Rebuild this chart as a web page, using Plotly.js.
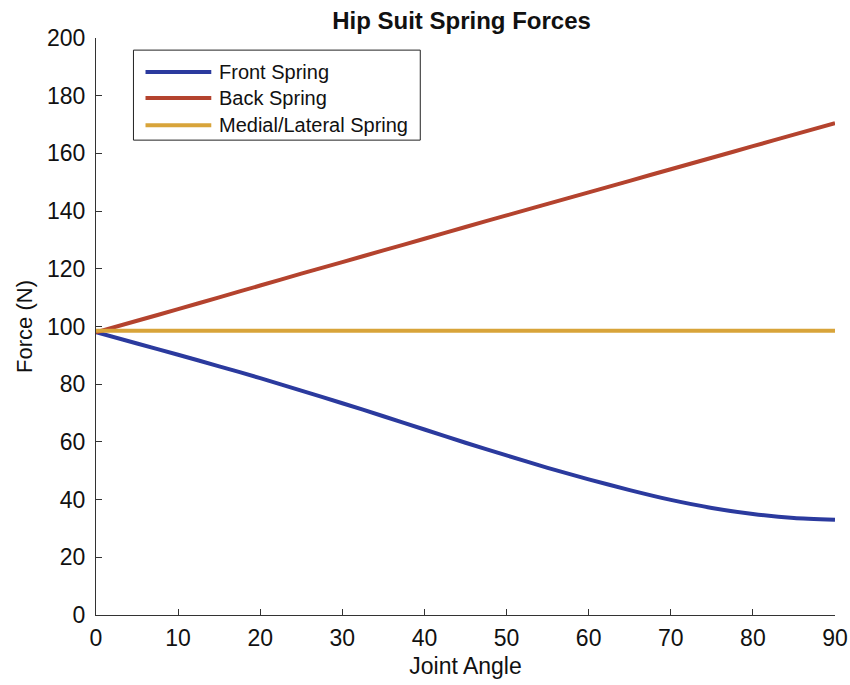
<!DOCTYPE html>
<html>
<head>
<meta charset="utf-8">
<script src="https://cdn.plot.ly/plotly-3.0.1.min.js"></script>
<style>
  html, body { margin: 0; padding: 0; background: #fff; }
  #chart { width: 850px; height: 685px; }
</style>
</head>
<body>
<div id="chart"></div>
<script>
// Joint angle samples (degrees)
const jointAngle = [0, 5, 10, 15, 20, 25, 30, 35, 40, 45, 50, 55, 60, 65, 70, 75, 80, 85, 90];

// Spring forces (N) at each joint angle
const frontSpring   = [98, 94.1, 90.2, 86.2, 82.1, 77.8, 73.4, 68.9, 64.3, 59.7,
                       55.3, 51.0, 47.0, 43.3, 39.9, 37.1, 35.0, 33.6, 33.0];
const backSpring    = [98, 102, 106, 110.1, 114.2, 118.3, 122.3, 126.4, 130.4, 134.5,
                       138.5, 142.5, 146.5, 150.5, 154.5, 158.5, 162.5, 166.5, 170.5];
const medialLateral = [98.5, 98.5, 98.5, 98.5, 98.5, 98.5, 98.5, 98.5, 98.5, 98.5,
                       98.5, 98.5, 98.5, 98.5, 98.5, 98.5, 98.5, 98.5, 98.5];

const seriesNames  = ['Front Spring', 'Back Spring', 'Medial/Lateral Spring'];
const seriesColors = ['#2b3a9e', '#b4432e', '#d8a43a'];
const seriesValues = [frontSpring, backSpring, medialLateral];

const FONT = 'Liberation Sans, Arial, Helvetica, sans-serif';

const traces = seriesValues.map((vals, i) => ({
  x: jointAngle,
  y: vals,
  type: 'scatter',
  mode: 'lines',
  name: seriesNames[i],
  line: { color: seriesColors[i], width: 4, shape: 'spline', smoothing: 0.6 },
  showlegend: false
}));

// Boxed legend in the upper-left corner of the axes
const legendBox = { x0: 0.0507, x1: 0.4388, y0: 0.823, y1: 0.979 };
const rowY = [0.941, 0.896, 0.849];
const shapes = [{
  type: 'rect', xref: 'paper', yref: 'paper',
  x0: legendBox.x0, x1: legendBox.x1, y0: legendBox.y0, y1: legendBox.y1,
  line: { color: '#222', width: 1 }, fillcolor: '#fff'
}];
const annotations = [];
seriesNames.forEach((name, i) => {
  shapes.push({
    type: 'line', xref: 'paper', yref: 'paper',
    x0: 0.067, x1: 0.156, y0: rowY[i], y1: rowY[i],
    line: { color: seriesColors[i], width: 4 }
  });
  annotations.push({
    xref: 'paper', yref: 'paper', x: 0.164, y: rowY[i],
    xanchor: 'left', yanchor: 'middle', showarrow: false,
    text: name, font: { family: FONT, size: 20, color: '#111' }
  });
});

const layout = {
  width: 850,
  height: 685,
  paper_bgcolor: '#fff',
  plot_bgcolor: '#fff',
  margin: { l: 95.5, r: 15, t: 38, b: 70 },
  title: {
    text: '<b>Hip Suit Spring Forces</b>',
    font: { family: FONT, size: 24, color: '#111' },
    x: 0.543, xanchor: 'center', y: 0.97, yanchor: 'middle'
  },
  xaxis: {
    range: [0, 90],
    dtick: 10,
    tick0: 0,
    showline: true,
    linecolor: '#333',
    linewidth: 1,
    ticks: 'inside',
    ticklen: 6,
    tickcolor: '#333',
    showgrid: false,
    zeroline: false,
    ticklabelstandoff: 2,
    tickfont: { family: FONT, size: 23, color: '#111' },
    title: { text: 'Joint Angle', font: { family: FONT, size: 23, color: '#111' }, standoff: 8 }
  },
  yaxis: {
    range: [0, 200],
    dtick: 20,
    tick0: 0,
    showline: true,
    linecolor: '#333',
    linewidth: 1,
    ticks: 'inside',
    ticklen: 6,
    tickcolor: '#333',
    showgrid: false,
    zeroline: false,
    ticklabelstandoff: 5,
    tickfont: { family: FONT, size: 23, color: '#111' },
    title: { text: 'Force (N)', font: { family: FONT, size: 22, color: '#111' }, standoff: 8 }
  },
  shapes: shapes,
  annotations: annotations
};

Plotly.newPlot('chart', traces, layout, { staticPlot: true, displayModeBar: false });
</script>
</body>
</html>
